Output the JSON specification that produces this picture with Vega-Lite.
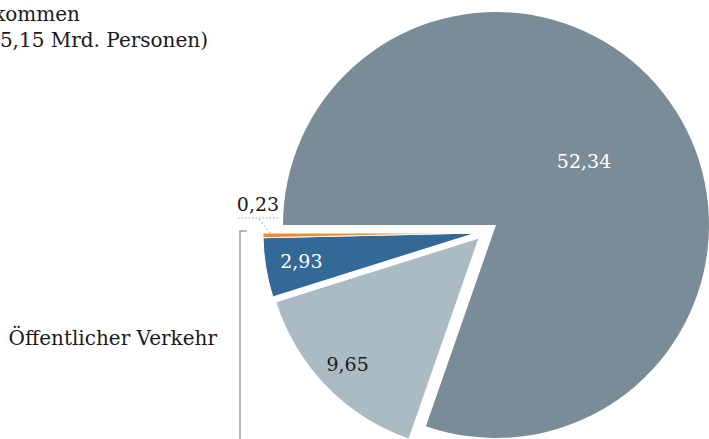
{
  "$schema": "https://vega.github.io/schema/vega-lite/v6.json",
  "autosize": {"type": "none"},
  "width": 426,
  "height": 428,
  "padding": {"left": 283, "top": 11, "right": 0, "bottom": 0},
  "background": "white",
  "config": {
    "view": {"stroke": null},
    "locale": {"number": {"decimal": ",", "thousands": ".", "grouping": [3], "currency": ["", " €"]}}
  },
  "data": {
    "values": [
      {"verkehrsart": "Motorisierter Individualverkehr", "mrd_personen": 52.34, "nr": 1},
      {"verkehrsart": "Öffentlicher Straßenpersonenverkehr", "mrd_personen": 9.65, "nr": 2},
      {"verkehrsart": "Eisenbahnverkehr", "mrd_personen": 2.93, "nr": 3},
      {"verkehrsart": "Luftverkehr", "mrd_personen": 0.23, "nr": 4}
    ]
  },
  "layer": [
    {
      "encoding": {
        "theta": {"field": "mrd_personen", "type": "quantitative", "stack": true, "scale": {"range": [4.712389, 10.995574]}},
        "order": {"field": "nr", "type": "quantitative", "sort": "ascending"}
      },
      "layer": [
        {
          "mark": {"type": "arc", "outerRadius": 213},
          "encoding": {
            "color": {"field": "verkehrsart", "type": "nominal", "legend": null,
              "scale": {"domain": ["Motorisierter Individualverkehr", "Öffentlicher Straßenpersonenverkehr", "Eisenbahnverkehr", "Luftverkehr"],
                        "range": ["#7a8c97", "#aabbc4", "#336997", "#ef8a2e"]}},
            "opacity": {"condition": {"test": "datum.nr === 1", "value": 1}, "value": 0}
          }
        },
        {
          "mark": {"type": "arc", "outerRadius": 213, "x": {"expr": "width/2 - 17"}, "y": {"expr": "height/2 + 13"}, "stroke": "white", "strokeWidth": 1},
          "encoding": {
            "color": {"field": "verkehrsart", "type": "nominal", "legend": null},
            "opacity": {"condition": {"test": "datum.nr === 2", "value": 1}, "value": 0}
          }
        },
        {
          "mark": {"type": "arc", "outerRadius": 213, "x": {"expr": "width/2 - 20"}, "y": {"expr": "height/2 + 8"}, "stroke": "white", "strokeWidth": 1},
          "encoding": {
            "color": {"field": "verkehrsart", "type": "nominal", "legend": null},
            "opacity": {"condition": {"test": "datum.nr >= 3", "value": 1}, "value": 0}
          }
        },
        {
          "mark": {"type": "text", "radius": 108, "font": "DejaVu Serif", "fontSize": 19, "fill": "white", "baseline": "middle", "align": "center"},
          "encoding": {
            "text": {"field": "mrd_personen", "type": "quantitative", "format": ".2f"},
            "opacity": {"condition": {"test": "datum.nr === 1", "value": 1}, "value": 0}
          }
        },
        {
          "mark": {"type": "text", "radius": 183, "x": {"expr": "width/2 - 17"}, "y": {"expr": "height/2 + 13"}, "font": "DejaVu Serif", "fontSize": 19, "fill": "#1a1a1a", "baseline": "middle", "align": "center"},
          "encoding": {
            "text": {"field": "mrd_personen", "type": "quantitative", "format": ".2f"},
            "opacity": {"condition": {"test": "datum.nr === 2", "value": 1}, "value": 0}
          }
        },
        {
          "mark": {"type": "text", "radius": 177, "x": {"expr": "width/2 - 20"}, "y": {"expr": "height/2 + 8"}, "font": "DejaVu Serif", "fontSize": 19, "fill": "white", "baseline": "middle", "align": "center"},
          "encoding": {
            "text": {"field": "mrd_personen", "type": "quantitative", "format": ".2f"},
            "opacity": {"condition": {"test": "datum.nr === 3", "value": 1}, "value": 0}
          }
        },
        {
          "mark": {"type": "text", "radius": 218, "dy": -30, "x": {"expr": "width/2 - 20"}, "y": {"expr": "height/2 + 8"}, "font": "DejaVu Serif", "fontSize": 19, "fill": "#1a1a1a", "baseline": "middle", "align": "center"},
          "encoding": {
            "text": {"field": "mrd_personen", "type": "quantitative", "format": ".2f"},
            "opacity": {"condition": {"test": "datum.nr === 4", "value": 1}, "value": 0}
          }
        }
      ]
    },
    {
      "data": {"values": [{}]},
      "mark": {"type": "rule", "color": "#a6a6a6", "strokeWidth": 1, "strokeDash": [1.5, 2]},
      "encoding": {"x": {"value": -45}, "x2": {"value": -4}, "y": {"value": 207}, "y2": {"value": 207}}
    },
    {
      "data": {"values": [{}]},
      "mark": {"type": "rule", "color": "#a6a6a6", "strokeWidth": 1, "strokeDash": [2, 2]},
      "encoding": {"x": {"value": -24}, "x2": {"value": -13}, "y": {"value": 208}, "y2": {"value": 222}}
    },
    {
      "data": {"values": [{}]},
      "mark": {"type": "rule", "color": "#a0a0a0", "strokeWidth": 1.5},
      "encoding": {"x": {"value": -43}, "y": {"value": 220}, "y2": {"value": 430}}
    },
    {
      "data": {"values": [{}]},
      "mark": {"type": "rule", "color": "#a0a0a0", "strokeWidth": 1.5},
      "encoding": {"x": {"value": -43.75}, "x2": {"value": -36}, "y": {"value": 220}, "y2": {"value": 220}}
    },
    {
      "data": {"values": [{}]},
      "mark": {"type": "text", "text": "Gesamtaufkommen", "align": "right", "baseline": "alphabetic", "font": "DejaVu Serif", "fontSize": 20, "fill": "#1a1a1a"},
      "encoding": {"x": {"value": -203}, "y": {"value": 10}}
    },
    {
      "data": {"values": [{}]},
      "mark": {"type": "text", "text": "(65,15 Mrd. Personen)", "align": "right", "baseline": "alphabetic", "font": "DejaVu Serif", "fontSize": 20, "fill": "#1a1a1a"},
      "encoding": {"x": {"value": -75}, "y": {"value": 36}}
    },
    {
      "data": {"values": [{}]},
      "mark": {"type": "text", "text": "Öffentlicher Verkehr", "align": "right", "baseline": "alphabetic", "font": "DejaVu Serif", "fontSize": 20, "fill": "#1a1a1a"},
      "encoding": {"x": {"value": -66}, "y": {"value": 334}}
    }
  ]
}
